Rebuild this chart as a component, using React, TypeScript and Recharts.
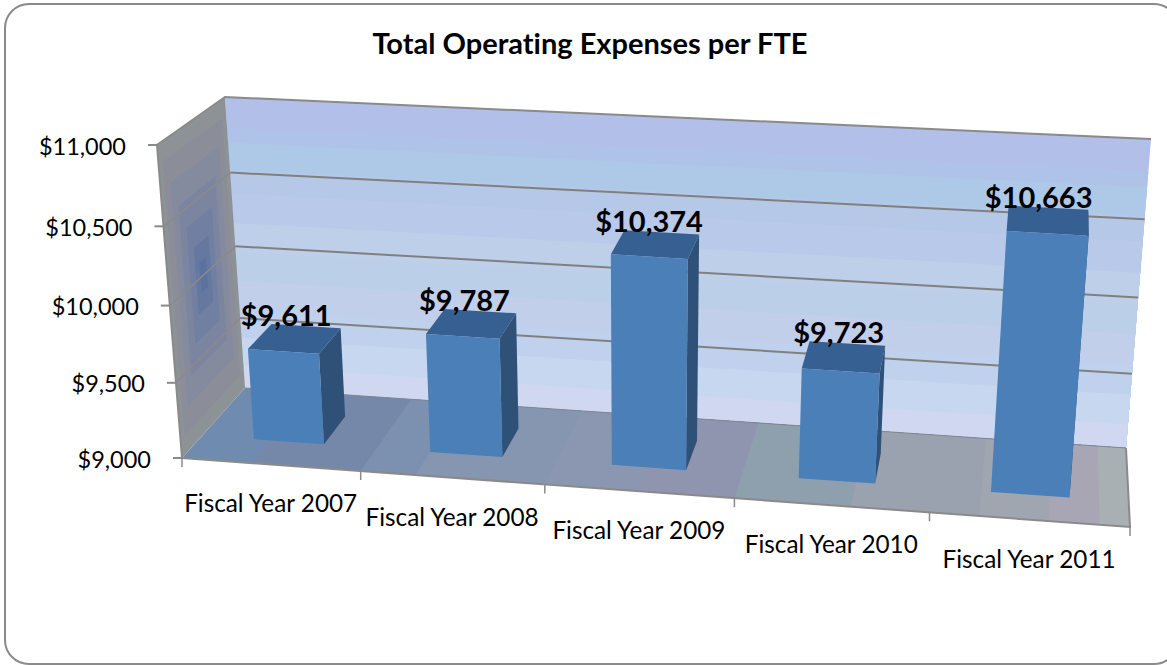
import React from 'react';
import { BarChart, Bar, XAxis, YAxis, CartesianGrid, LabelList } from 'recharts';

const categories = ['Fiscal Year 2007', 'Fiscal Year 2008', 'Fiscal Year 2009', 'Fiscal Year 2010', 'Fiscal Year 2011'];
const expenses = [9611, 9787, 10374, 9723, 10663];
const valueTicks = [9000, 9500, 10000, 10500, 11000];

const chartData = categories.map((name, i) => ({ name, value: expenses[i] }));

const FONT = 'Lato, sans-serif';
const LINE = '#8a8a8a';

// flat plot box that recharts lays out; project() bends it into the 3D view
const PLOT_L = 182;
const PLOT_R = 1130;
const PLOT_T = 145;
const PLOT_B = 458;
const BAR_D0 = 0.32;
const BAR_D1 = 0.71;

const lerp = (a: number, b: number, t: number) => a + (b - a) * t;

// u across, v up, d into the page (all 0..1)
function project(u: number, v: number, d: number): [number, number] {
  const uu = u - 0.072 * u * (1 - u);
  const vv = v - 0.052 * v * (1 - v);
  const fbx = lerp(182, 1130, uu);
  const fby = lerp(458, 527, uu);
  const ftx = lerp(157, 1157, uu);
  const fty = lerp(145, 204, uu);
  const bbx = lerp(245, 1126, uu);
  const bby = lerp(388, 448, uu);
  const btx = lerp(225, 1151, uu);
  const bty = lerp(97, 139, uu);
  const botX = lerp(fbx, bbx, d);
  const botY = lerp(fby, bby, d);
  const topX = lerp(ftx, btx, d);
  const topY = lerp(fty, bty, d);
  return [lerp(botX, topX, vv), lerp(botY, topY, vv)];
}

const toU = (x: number) => (x - PLOT_L) / (PLOT_R - PLOT_L);
const toV = (y: number) => (PLOT_B - y) / (PLOT_B - PLOT_T);
const pts = (list: [number, number][]) => list.map((p) => p.join(',')).join(' ');

const wallBands: [number, string][] = [
  [1, '#b1bfe9'],
  [0.9, '#afc3e8'],
  [0.85, '#aec9e8'],
  [0.76, '#b5c8e8'],
  [0.68, '#b8c9e9'],
  [0.58, '#bdcfe9'],
  [0.48, '#bccfe9'],
  [0.38, '#c2cfea'],
  [0.28, '#bfd1ec'],
  [0.18, '#c7d7f0'],
  [0.08, '#cfd8f0'],
];

const floorBands: [number, string][] = [
  [0, '#6f8cb0'],
  [0.08, '#7688aa'],
  [0.2, '#7c90b0'],
  [0.26, '#8696b0'],
  [0.4, '#8b97b0'],
  [0.5, '#8f95af'],
  [0.6, '#8e9fae'],
  [0.72, '#9aa2b0'],
  [0.85, '#a0a6b0'],
  [0.92, '#a8a6b5'],
  [0.97, '#a8b0b4'],
];

const sideBands: [number, string][] = [
  [1, '#8d9297'],
  [0.88, '#8b8e99'],
  [0.72, '#858b9e'],
  [0.55, '#7c85a0'],
  [0.38, '#717fa3'],
  [0.22, '#65789f'],
  [0.1, '#5b72a0'],
];

// frame, title and the three panes sit in their own svg under the chart
function Scene() {
  return (
    <svg width={1167} height={665} style={{ position: 'absolute', left: 0, top: 0 }}>
      <rect x={5} y={4} width={1173} height={660} rx={24} fill="#fff" stroke={LINE} strokeWidth={2} />
      <text
        x={590}
        y={54}
        textAnchor="middle"
        fontFamily={FONT}
        fontWeight={700}
        fontSize={29}
        fill="#000"
        style={{ fontVariantLigatures: 'none' }}
      >
        Total Operating Expenses per FTE
      </text>
      {wallBands.map(([v, color]) => (
        <polygon key={v} fill={color} points={pts([project(0, v, 1), project(1, v, 1), project(1, 0, 1), project(0, 0, 1)])} />
      ))}
      {floorBands.map(([u, color]) => (
        <polygon key={u} fill={color} points={pts([project(u, 0, 0), project(1, 0, 0), project(1, 0, 1), project(u, 0, 1)])} />
      ))}
      {sideBands.map(([t, color]) => {
        const v0 = 0.5 - 0.5 * t;
        const v1 = 0.5 + 0.5 * t;
        const d0 = 0.52 - 0.52 * t;
        const d1 = 0.52 + 0.48 * t;
        return <polygon key={t} fill={color} points={pts([project(0, v0, d0), project(0, v1, d0), project(0, v1, d1), project(0, v0, d1)])} />;
      })}
      <polyline fill="none" stroke="#7f8792" strokeWidth={1} points={pts([project(0, 0, 1), project(1, 0, 1)])} />
      <polyline
        fill="none"
        stroke={LINE}
        strokeWidth={2}
        points={pts([project(0, 0, 0), project(0, 1, 0), project(0, 1, 1), project(1, 1, 1)])}
      />
      <polyline
        fill="none"
        stroke={LINE}
        strokeWidth={2}
        points={pts([project(0, 0, 0), project(1, 0, 0), project(1, 0, 1)])}
      />
    </svg>
  );
}

function GridLine(props: any) {
  const v = toV(props.y1);
  if (v < 0.01 || v > 0.99) return <g />;
  return (
    <g fill="none">
      <polyline stroke={LINE} strokeWidth={1.5} points={pts([project(0, v, 0), project(0, v, 1)])} />
      <polyline stroke="#808080" strokeWidth={2} points={pts([project(0, v, 1), project(1, v, 1)])} />
    </g>
  );
}

function ValueTick({ y, payload }: any) {
  const [px, py] = project(0, toV(y), 0);
  return (
    <g>
      <line x1={px - 9} y1={py} x2={px} y2={py} stroke={LINE} strokeWidth={2} />
      <text x={px - 31} y={py + 9.5} textAnchor="end" fontFamily={FONT} fontSize={23.5} fill="#000">
        {'$' + Number(payload.value).toLocaleString('en-US')}
      </text>
    </g>
  );
}

function CategoryTick({ x, index, payload }: any) {
  const band = (PLOT_R - PLOT_L) / categories.length;
  const u = toU(x);
  const [mx, my] = project(u, 0, 0);
  const edges = [toU(x - band / 2)];
  if (index === categories.length - 1) edges.push(toU(x + band / 2));
  return (
    <g>
      {edges.map((e) => {
        const [tx, ty] = project(e, 0, 0);
        return <line key={e} x1={tx} y1={ty} x2={tx} y2={ty + 9} stroke={LINE} strokeWidth={1.5} />;
      })}
      <text x={mx} y={my + 48} textAnchor="middle" fontFamily={FONT} fontSize={24.3} fill="#000">
        {payload.value}
      </text>
    </g>
  );
}

function Box3D({ x, y, width, height }: any) {
  const u0 = toU(x);
  const u1 = toU(x + width);
  const top = toV(y);
  const bottom = toV(y + height);
  return (
    <g>
      <polygon
        fill="#2f5178"
        points={pts([project(u1, bottom, BAR_D0), project(u1, top, BAR_D0), project(u1, top, BAR_D1), project(u1, bottom, BAR_D1)])}
      />
      <polygon
        fill="#376092"
        points={pts([project(u0, top, BAR_D0), project(u1, top, BAR_D0), project(u1, top, BAR_D1), project(u0, top, BAR_D1)])}
      />
      <polygon
        fill="#4a7fb8"
        points={pts([project(u0, bottom, BAR_D0), project(u1, bottom, BAR_D0), project(u1, top, BAR_D0), project(u0, top, BAR_D0)])}
      />
    </g>
  );
}

function BarValue({ x, y, width, height, value }: any) {
  const uc = toU(x + width / 2);
  const top = toV(y);
  const bottom = toV(y + height);
  const [lx] = project(uc, (top + bottom) / 2, BAR_D0);
  const [, ly] = project(uc, top, BAR_D1);
  return (
    <text x={lx} y={ly} textAnchor="middle" fontFamily={FONT} fontWeight={700} fontSize={29} fill="#000">
      {'$' + Number(value).toLocaleString('en-US')}
    </text>
  );
}

export default function App() {
  return (
    <div style={{ position: 'absolute', left: 0, top: 0, width: 1167, height: 665, background: '#fff', overflow: 'hidden' }}>
      <Scene />
      <BarChart
        width={1167}
        height={665}
        data={chartData}
        barCategoryGap="30%"
        margin={{ top: PLOT_T, right: 1167 - PLOT_R, bottom: 665 - PLOT_B - 30, left: PLOT_L - 60 }}
      >
        <CartesianGrid horizontal={GridLine} vertical={false} />
        <XAxis dataKey="name" height={30} interval={0} axisLine={false} tickLine={false} tick={CategoryTick} />
        <YAxis
          width={60}
          domain={[9000, 11000]}
          ticks={valueTicks}
          interval={0}
          axisLine={false}
          tickLine={false}
          tick={ValueTick}
        />
        <Bar dataKey="value" isAnimationActive={false} shape={Box3D}>
          <LabelList dataKey="value" content={BarValue} />
        </Bar>
      </BarChart>
    </div>
  );
}
